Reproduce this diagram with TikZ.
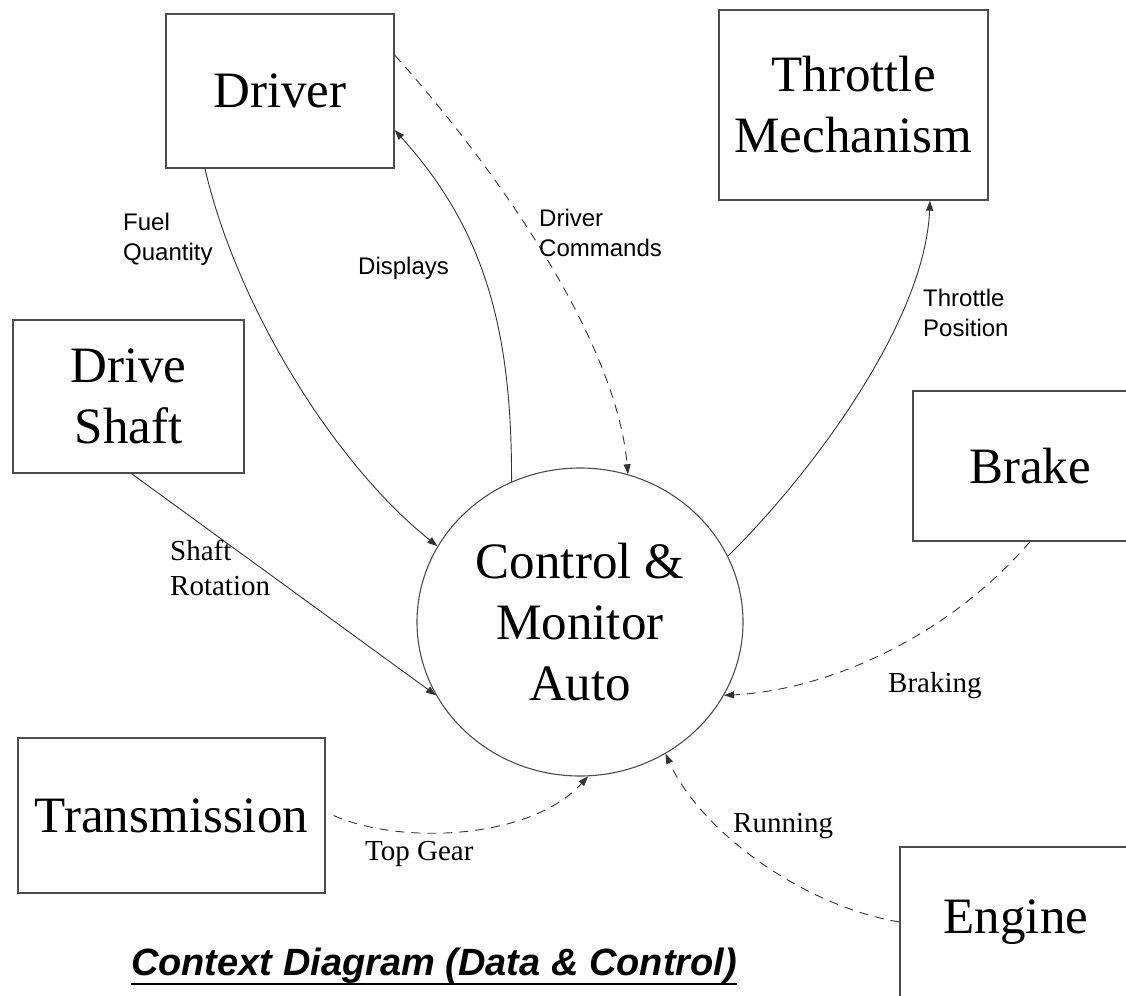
\documentclass[tikz,border=0pt]{standalone}
\usepackage{fontspec}
\setmainfont{Liberation Serif}
\newfontfamily\arialf{Liberation Sans}
\usetikzlibrary{arrows.meta,shapes.geometric}
\begin{document}
\begin{tikzpicture}[x=1pt,y=-1pt,
  ent/.style={draw=black!70, line width=1.3pt, rectangle, inner sep=0pt, font=\fontsize{51}{61}\selectfont, align=center},
  proc/.style={draw=black!70, line width=1.1pt, ellipse, inner sep=0pt, minimum width=326pt, minimum height=308pt, font=\fontsize{51}{61}\selectfont, align=center},
  flow/.style={draw=black!80, line width=0.9pt, -{Triangle[length=10pt,width=7pt]}},
  ctl/.style={flow, dash pattern=on 9pt off 7pt},
  slab/.style={font=\arialf\fontsize{24}{29.5}\selectfont, align=left, anchor=base west, inner sep=0pt},
  rlab/.style={font=\fontsize{29}{35}\selectfont, align=left, anchor=base west, inner sep=0pt},
]
\useasboundingbox (0,0) rectangle (1126,995);
\fill[white] (0,0) rectangle (1126,995);

% entities
\node[ent, minimum width=228pt, minimum height=154pt] (driver) at (280,91) {Driver};
\node[ent, minimum width=269pt, minimum height=190pt] (throttle) at (853.5,105) {Throttle\\Mechanism};
\node[ent, minimum width=231pt, minimum height=153pt] (shaft) at (128.5,396.5) {Drive\\Shaft};
\node[ent, minimum width=234pt, minimum height=150pt] (brake) at (1030,466) {Brake};
\node[ent, minimum width=307pt, minimum height=155pt] (transmission) at (171.5,815.5) {Transmission};
\node[ent, minimum width=232pt, minimum height=150pt] (engine) at (1016,922) {Engine};

% process
\node[proc] (ctrl) at (580,622) {Control \&\\Monitor\\Auto};

% flows
\draw[flow] ([xshift=-75pt]driver.south) .. controls (235,300) and (330,460) .. (ctrl.152.6);
\draw[flow] (ctrl.116.1) .. controls (512,330) and (485,230) .. ([yshift=-39pt]driver.east);
\draw[ctl] ([yshift=36pt]driver.east) .. controls (480,150) and (615,330) .. (ctrl.72.3);
\draw[flow] (ctrl.24.3) .. controls (815,470) and (925,320) .. ([xshift=76.5pt]throttle.south);
\draw[ctl] (brake.south) .. controls (950,635) and (830,690) .. (ctrl.-27.3);
\draw[ctl] (engine.west) .. controls (800,905) and (700,830) .. (ctrl.-57.1);
\draw[ctl] ([xshift=8pt]transmission.east) .. controls (400,845) and (530,840) .. (ctrl.-87);
\draw[flow] ([xshift=3pt]shaft.south) -- (ctrl.207.3);

% labels (base = baseline of last line)
\node[slab] (lfuel) at (123,260) {Fuel\\Quantity};
\node[slab] (ldisp) at (358,274) {Displays};
\node[slab] (lcmd) at (539,256) {Driver\\Commands};
\node[slab] (lthr) at (923,336) {Throttle\\Position};
\node[rlab] (lrot) at (170,595) {Shaft\\Rotation};
\node[rlab] (lbrk) at (888,692) {Braking};
\node[rlab] (lrun) at (733,832) {Running};
\node[rlab] (ltop) at (365,860) {Top Gear};

% title
\node[font=\arialf\bfseries\itshape\fontsize{38}{46}\selectfont, anchor=base, inner sep=0pt] (title) at (434,975) {Context Diagram (Data \& Control)};
\draw[line width=2.5pt] ([yshift=-9pt]title.base west) -- ([yshift=-9pt]title.base east);
\end{tikzpicture}
\end{document}
